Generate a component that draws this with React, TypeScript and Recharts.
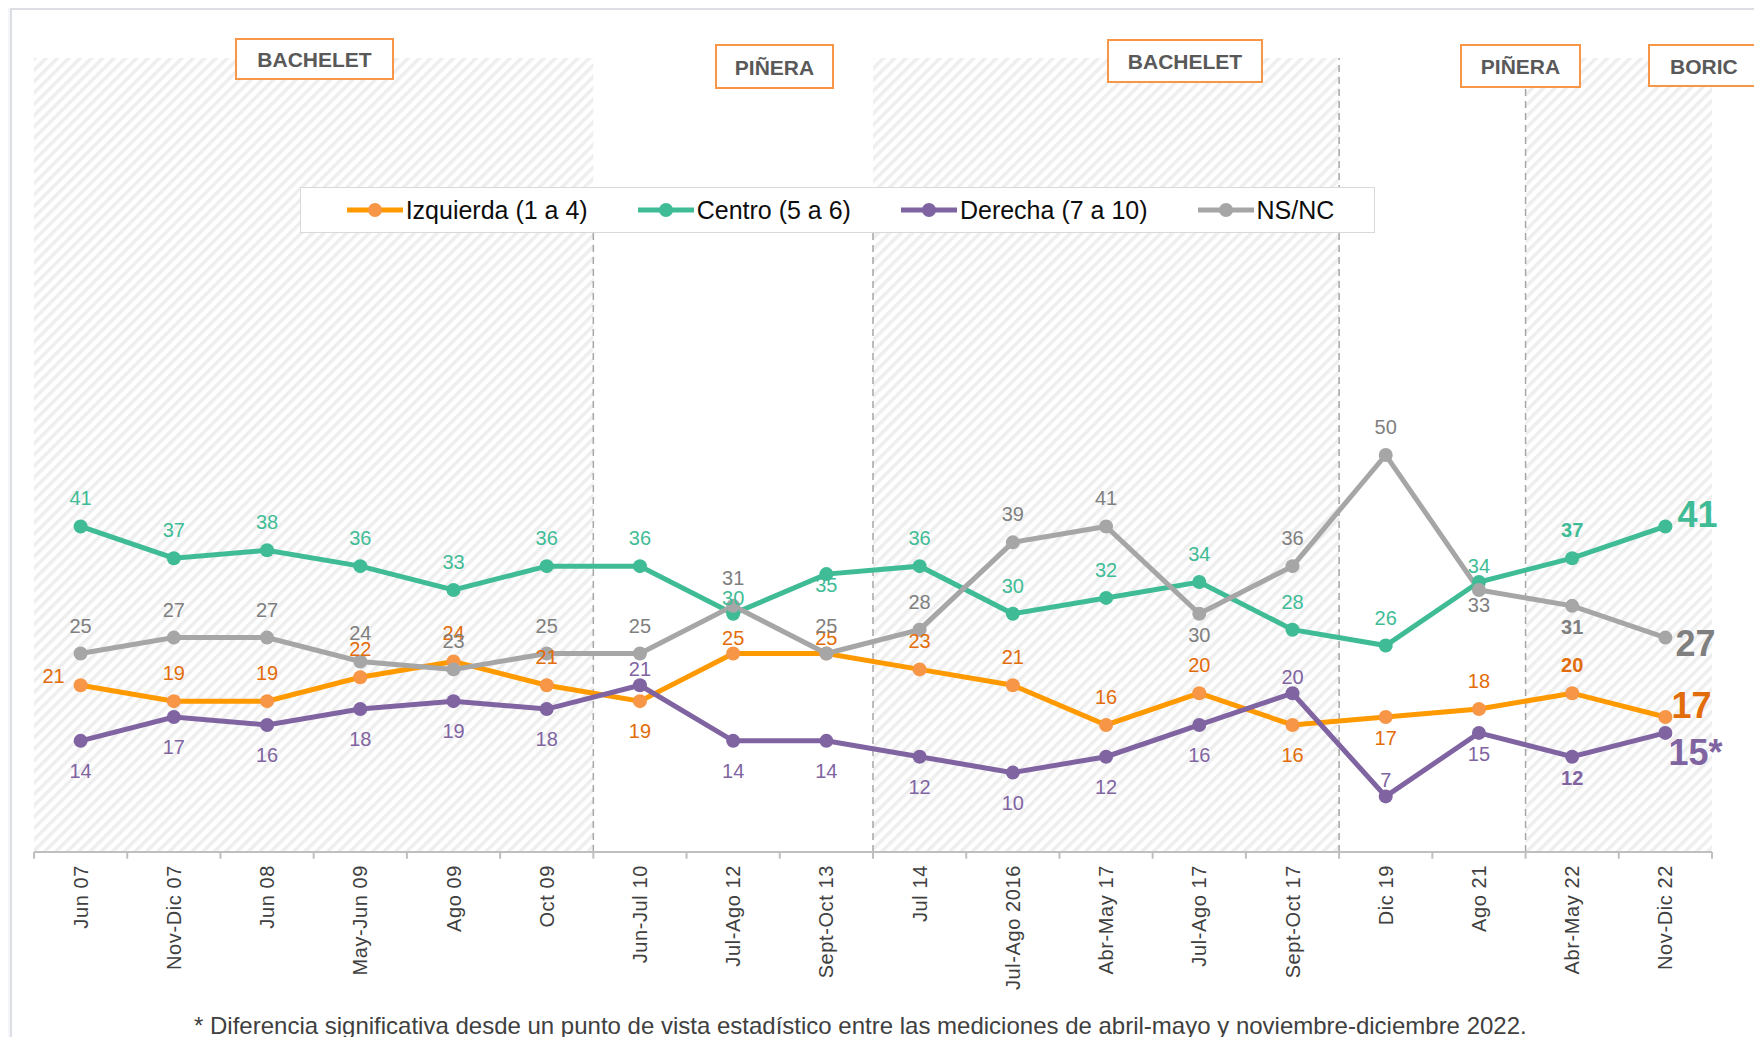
import React from 'react';
import { LineChart, Line, XAxis, YAxis, ReferenceArea, ReferenceLine, LabelList } from 'recharts';

// ---------- data ----------
const categories = [
  'Jun 07', 'Nov-Dic 07', 'Jun 08', 'May-Jun 09', 'Ago 09', 'Oct 09', 'Jun-Jul 10', 'Jul-Ago 12',
  'Sept-Oct 13', 'Jul 14', 'Jul-Ago 2016', 'Abr-May 17', 'Jul-Ago 17', 'Sept-Oct 17', 'Dic 19',
  'Ago 21', 'Abr-May 22', 'Nov-Dic 22',
];
const izquierda = [21, 19, 19, 22, 24, 21, 19, 25, 25, 23, 21, 16, 20, 16, 17, 18, 20, 17];
const centro = [41, 37, 38, 36, 33, 36, 36, 30, 35, 36, 30, 32, 34, 28, 26, 34, 37, 41];
const derecha = [14, 17, 16, 18, 19, 18, 21, 14, 14, 12, 10, 12, 16, 20, 7, 15, 12, 15];
const nsnc = [25, 27, 27, 24, 23, 25, 25, 31, 25, 28, 39, 41, 30, 36, 50, 33, 31, 27];

const periods = [
  { name: 'BACHELET', first: 0, last: 5, shaded: true },
  { name: 'PIÑERA', first: 6, last: 8, shaded: false },
  { name: 'BACHELET', first: 9, last: 13, shaded: true },
  { name: 'PIÑERA', first: 14, last: 15, shaded: false },
  { name: 'BORIC', first: 16, last: 17, shaded: true },
];
const footnote =
  '* Diferencia significativa desde un punto de vista estadístico entre las mediciones de abril-mayo y noviembre-diciembre 2022.';

// ---------- layout hints (not data) ----------
// label placement: t = above, T = close above, b = below, M = medium below, B = close below,
// C = very close below, l = left, r = end label
const izqPos = ['l', 't', 't', 't', 't', 't', 'b', 'T', 'T', 't', 't', 't', 't', 'b', 'M', 't', 't', 'r'];
const cenPos = ['t', 't', 't', 't', 't', 't', 't', 'T', 'C', 't', 't', 't', 't', 't', 't', 'T', 't', 'r'];
const derPos = ['b', 'b', 'b', 'b', 'b', 'b', 'T', 'b', 'b', 'b', 'b', 'b', 'b', 'T', 'T', 'M', 'M', 'r'];
const nsPos = ['t', 't', 't', 't', 't', 't', 't', 't', 't', 't', 't', 't', 'M', 't', 't', 'B', 'M', 'r'];
const headerBoxes = [
  { left: 235, top: 38, width: 159, height: 42, padLeft: 0 },
  { left: 715, top: 44, width: 119, height: 45, padLeft: 0 },
  { left: 1107, top: 39, width: 156, height: 44, padLeft: 0 },
  { left: 1460, top: 44, width: 121, height: 44, padLeft: 0 },
  { left: 1648, top: 44, width: 160, height: 43, padLeft: 20 },
];
const dividerTops = [78, 78, 100, 100];

const FONT = '"Liberation Sans", Arial, Helvetica, sans-serif';

const series = [
  { key: 'izquierda', name: 'Izquierda (1 a 4)', line: '#ff9900', dot: '#f79646', label: '#e36c0a', boldLabel: '#e36c0a', pos: izqPos, endDx: 6, endDy: -12, suffix: '' },
  { key: 'centro', name: 'Centro (5 a 6)', line: '#3fbc96', dot: '#3fbc96', label: '#3fbc96', boldLabel: '#3fbc96', pos: cenPos, endDx: 12, endDy: -12, suffix: '' },
  { key: 'derecha', name: 'Derecha (7 a 10)', line: '#8064a2', dot: '#8064a2', label: '#8064a2', boldLabel: '#8064a2', pos: derPos, endDx: 3, endDy: 19, suffix: '*' },
  { key: 'nsnc', name: 'NS/NC', line: '#a6a6a6', dot: '#a6a6a6', label: '#7f7f7f', boldLabel: '#7f7f7f', pos: nsPos, endDx: 10, endDy: 5, suffix: '' },
];

const data = categories.map((c, i) => ({
  i,
  cat: c,
  izquierda: izquierda[i],
  centro: centro[i],
  derecha: derecha[i],
  nsnc: nsnc[i],
}));

const tickIdx = categories.map((_, i) => i);
const boundaries = [-0.5, ...categories.map((_, i) => i + 0.5)];
const dividers = periods.slice(0, -1).map((p) => p.last + 0.5);

const XTick = (props: any) => {
  const { x, y, payload } = props;
  const label = categories[payload.value];
  if (label == null) return null;
  const ty = y + 13;
  return (
    <text
      x={x}
      y={ty}
      transform={`rotate(-90 ${x} ${ty})`}
      textAnchor="end"
      dominantBaseline="central"
      fontFamily={FONT}
      fontSize={20}
      fill="#404040"
      letterSpacing={0.6}
    >
      {label}
    </text>
  );
};

const offsets: Record<string, number> = { t: -28, T: -16, b: 30, M: 21, B: 15, C: 11 };

function makeLabel(s: (typeof series)[number]) {
  return (props: any) => {
    const vb = props.viewBox || {};
    const x = props.x ?? vb.x;
    const y = props.y ?? vb.y;
    const index = props.index;
    const value = props.value;
    if (x == null || y == null || index == null) return null;
    const p = s.pos[index];
    const last = index === categories.length - 1;
    const bold = index === categories.length - 2;
    if (p === 'r' || last) {
      return (
        <text x={x + s.endDx} y={y + s.endDy + 13} fontFamily={FONT} fontSize={36} fontWeight="bold" fill={s.boldLabel} textAnchor="start">
          {`${value}${s.suffix}`}
        </text>
      );
    }
    if (p === 'l') {
      return (
        <text x={x - 27} y={y - 9 + 7} fontFamily={FONT} fontSize={20} fill={s.label} textAnchor="middle">
          {value}
        </text>
      );
    }
    const off = offsets[p] ?? -28;
    return (
      <text
        x={x}
        y={y + off + 7}
        fontFamily={FONT}
        fontSize={20}
        fontWeight={bold ? 'bold' : 'normal'}
        fill={bold ? s.boldLabel : s.label}
        textAnchor="middle"
      >
        {value}
      </text>
    );
  };
}

const LegendIcon = ({ line, dot }: { line: string; dot: string }) => (
  <svg width={56} height={16} style={{ display: 'block' }}>
    <line x1={0} y1={8} x2={56} y2={8} stroke={line} strokeWidth={5} />
    <circle cx={28} cy={8} r={7} fill={dot} />
  </svg>
);

export default function App() {
  return (
    <div
      style={{
        position: 'relative',
        width: 1762,
        height: 1045,
        margin: -8,
        overflow: 'hidden',
        background: '#f4f6fa',
        fontFamily: FONT,
      }}
    >
      <svg width={0} height={0} style={{ position: 'absolute' }}>
        <defs>
          <pattern id="hatch" patternUnits="userSpaceOnUse" width={8} height={8} patternTransform="rotate(45)">
            <rect x={0} y={0} width={8} height={8} fill="#ffffff" />
            <rect x={0} y={0} width={3.5} height={8} fill="#eeeeee" />
          </pattern>
        </defs>
      </svg>
      <div
        style={{
          position: 'absolute',
          left: 10,
          top: 8,
          width: 1800,
          height: 1100,
          background: '#ffffff',
          border: '2px solid #dcdee3',
          boxSizing: 'border-box',
        }}
      />
      <div style={{ position: 'absolute', left: 0, top: 0 }}>
        <LineChart width={1762} height={1045} data={data} margin={{ top: 58, right: 50, left: 34, bottom: 48 }}>
          {periods
            .filter((p) => p.shaded)
            .map((p, k) => (
              <ReferenceArea
                key={`area-${k}`}
                x1={p.first - 0.5}
                x2={p.last + 0.5}
                y1={0}
                y2={100}
                fill="url(#hatch)"
                fillOpacity={1}
                stroke="none"
                ifOverflow="visible"
              />
            ))}
          {dividers.map((d, k) => (
            <ReferenceLine
              key={`div-${k}`}
              segment={[
                { x: d, y: 0 },
                { x: d, y: dividerTops[k] },
              ]}
              stroke="#a6a6a6"
              strokeWidth={1.5}
              strokeDasharray="7 5"
              ifOverflow="visible"
            />
          ))}
          {boundaries.map((b, k) => (
            <ReferenceLine
              key={`tick-${k}`}
              segment={[
                { x: b, y: 0 },
                { x: b, y: -0.85 },
              ]}
              stroke="#bfbfbf"
              strokeWidth={2}
              ifOverflow="visible"
            />
          ))}
          <XAxis
            type="number"
            dataKey="i"
            domain={[-0.5, 17.5]}
            ticks={tickIdx}
            interval={0}
            allowDataOverflow
            tick={<XTick />}
            tickLine={false}
            tickSize={0}
            tickMargin={0}
            axisLine={{ stroke: '#bfbfbf', strokeWidth: 2 }}
            height={145}
          />
          <YAxis hide domain={[0, 100]} allowDataOverflow />
          {series.map((s) => (
            <Line
              key={s.key}
              type="linear"
              dataKey={s.key}
              stroke={s.line}
              strokeWidth={5}
              dot={{ r: 7, fill: s.dot, stroke: s.dot, strokeWidth: 0 }}
              activeDot={false}
              isAnimationActive={false}
            >
              <LabelList dataKey={s.key} content={makeLabel(s)} />
            </Line>
          ))}
        </LineChart>
      </div>

      {headerBoxes.map((b, k) => (
        <div
          key={`hb-${k}`}
          style={{
            position: 'absolute',
            left: b.left,
            top: b.top,
            width: b.width,
            height: b.height,
            border: '2px solid #f79646',
            background: '#ffffff',
            boxSizing: 'border-box',
            display: 'flex',
            alignItems: 'center',
            justifyContent: b.padLeft ? 'flex-start' : 'center',
            paddingLeft: b.padLeft,
            paddingTop: 2,
            fontWeight: 'bold',
            fontSize: 21,
            color: '#595959',
          }}
        >
          {periods[k].name}
        </div>
      ))}

      <div
        style={{
          position: 'absolute',
          left: 300,
          top: 187,
          width: 1075,
          height: 46,
          background: '#ffffff',
          border: '1.5px solid #d9d9d9',
          boxSizing: 'border-box',
          display: 'flex',
          alignItems: 'center',
          justifyContent: 'center',
          gap: 50,
          paddingLeft: 6,
        }}
      >
        {series.map((s) => (
          <div key={`lg-${s.key}`} style={{ display: 'flex', alignItems: 'center' }}>
            <LegendIcon line={s.line} dot={s.dot} />
            <span style={{ marginLeft: 3, fontSize: 25, color: '#0d0d0d', whiteSpace: 'nowrap' }}>{s.name}</span>
          </div>
        ))}
      </div>

      <div
        style={{
          position: 'absolute',
          left: 194,
          top: 1014,
          fontSize: 24,
          lineHeight: '24px',
          color: '#404040',
          whiteSpace: 'nowrap',
        }}
      >
        {footnote}
      </div>
    </div>
  );
}
